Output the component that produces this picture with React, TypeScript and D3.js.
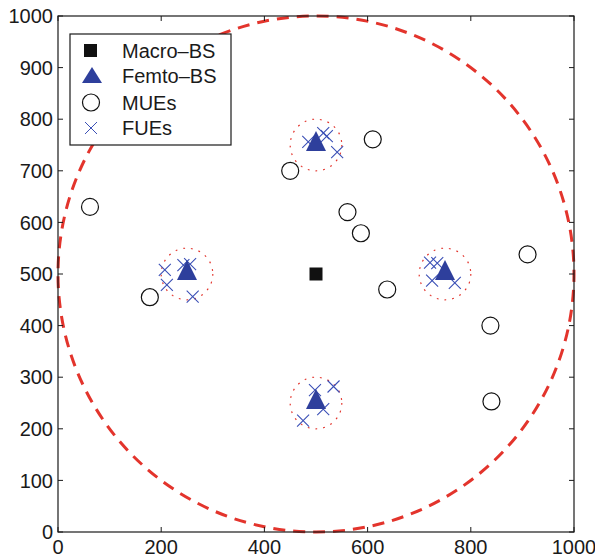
import {useEffect, useRef} from 'react'
import * as d3 from 'd3'

// base stations
const macroBS = [[500, 500]]
const femtoBS = [[250, 500], [500, 750], [750, 500], [500, 250]]

// macro users
const mues = [
    [62, 630], [178, 455], [450, 700], [610, 761], [561, 620],
    [587, 579], [638, 470], [910, 538], [838, 400], [840, 253]
]

// femto users
const fues = [
    [207, 508], [211, 479], [243, 517], [256, 519], [261, 456],
    [485, 756], [514, 773], [521, 767], [541, 736],
    [721, 522], [735, 521], [725, 487], [769, 483],
    [498, 275], [534, 282], [514, 238], [475, 216]
]

const macroRadius = 500
const femtoRadius = 50
const xTicks = [0, 200, 400, 600, 800, 1000]
const yTicks = [0, 100, 200, 300, 400, 500, 600, 700, 800, 900, 1000]

const legendItems = ['Macro\u2013BS', 'Femto\u2013BS', 'MUEs', 'FUEs']

const RED = '#e3342c'
const BLUE = '#2e3f9c'
const CROSS = '#3b50b6'
const FONT = '"Liberation Sans", Arial, Helvetica, sans-serif'

function App(){
    const svg = useRef(null)

    useEffect(() => {
        const x = d3.scaleLinear().domain([0, 1000]).range([58, 574])
        const y = d3.scaleLinear().domain([0, 1000]).range([532, 16])

        const svgRef = d3.select(svg.current)
        svgRef.selectAll("*").remove()

        const g = svgRef.append("g")

        //circles for coverage areas
        g.append("circle")
            .attr("cx", x(500)).attr("cy", y(500))
            .attr("r", x(macroRadius) - x(0))
            .attr("fill", "none")
            .attr("stroke", RED)
            .attr("stroke-width", 3)
            .attr("stroke-dasharray", "12 8")
            .attr("stroke-dashoffset", 4)

        g.selectAll(".femto-area")
            .data(femtoBS)
            .join("circle")
                .attr("class", "femto-area")
                .attr("cx", d => x(d[0]))
                .attr("cy", d => y(d[1]))
                .attr("r", x(femtoRadius) - x(0))
                .attr("fill", "none")
                .attr("stroke", RED)
                .attr("stroke-width", 1.2)
                .attr("stroke-dasharray", "1.8 6")

        //axes box
        g.append("rect")
            .attr("x", x(0)).attr("y", y(1000))
            .attr("width", x(1000) - x(0))
            .attr("height", y(0) - y(1000))
            .attr("fill", "none")
            .attr("stroke", "#1a1a1a")
            .attr("stroke-width", 1.2)

        //tick marks inside on all four sides
        xTicks.forEach(t => {
            g.append("line").attr("x1", x(t)).attr("x2", x(t))
                .attr("y1", y(0)).attr("y2", y(0) - 5)
                .attr("stroke", "#1a1a1a")
            g.append("line").attr("x1", x(t)).attr("x2", x(t))
                .attr("y1", y(1000)).attr("y2", y(1000) + 5)
                .attr("stroke", "#1a1a1a")
            g.append("text")
                .attr("x", x(t)).attr("y", y(0) + 22)
                .attr("text-anchor", "middle")
                .attr("fill", "#1a1a1a")
                .style("font", `20px ${FONT}`)
                .text(t)
        })
        yTicks.forEach(t => {
            g.append("line").attr("x1", x(0)).attr("x2", x(0) + 5)
                .attr("y1", y(t)).attr("y2", y(t))
                .attr("stroke", "#1a1a1a")
            g.append("line").attr("x1", x(1000)).attr("x2", x(1000) - 5)
                .attr("y1", y(t)).attr("y2", y(t))
                .attr("stroke", "#1a1a1a")
            g.append("text")
                .attr("x", x(0) - 5).attr("y", y(t))
                .attr("dy", "0.36em")
                .attr("text-anchor", "end")
                .attr("fill", "#1a1a1a")
                .style("font", `20px ${FONT}`)
                .text(t)
        })

        const crossPath = (cx, cy, s) => `M${cx - s},${cy - s}L${cx + s},${cy + s}M${cx - s},${cy + s}L${cx + s},${cy - s}`
        const triPath = (cx, cy) => `M${cx - 10},${cy + 6}L${cx + 10},${cy + 6}L${cx},${cy - 14}Z`

        //MUEs
        g.selectAll(".mue")
            .data(mues)
            .join("circle")
                .attr("class", "mue")
                .attr("cx", d => x(d[0]))
                .attr("cy", d => y(d[1]))
                .attr("r", 8.5)
                .attr("fill", "none")
                .attr("stroke", "#111")
                .attr("stroke-width", 1.2)

        //FUEs
        g.selectAll(".fue")
            .data(fues)
            .join("path")
                .attr("class", "fue")
                .attr("d", d => crossPath(x(d[0]), y(d[1]), 6))
                .attr("stroke", CROSS)
                .attr("stroke-width", 1.1)
                .attr("fill", "none")

        //Femto BS, drawn over the users
        g.selectAll(".femto")
            .data(femtoBS)
            .join("path")
                .attr("class", "femto")
                .attr("d", d => triPath(x(d[0]), y(d[1])))
                .attr("fill", BLUE)

        //Macro BS
        g.selectAll(".macro")
            .data(macroBS)
            .join("rect")
                .attr("class", "macro")
                .attr("x", d => x(d[0]) - 6.5)
                .attr("y", d => y(d[1]) - 6.5)
                .attr("width", 13)
                .attr("height", 13)
                .attr("fill", "#111")

        //legend
        const lg = g.append("g")
        lg.append("rect")
            .attr("x", 70).attr("y", 34)
            .attr("width", 161).attr("height", 111)
            .attr("fill", "white")
            .attr("stroke", "#1a1a1a")
            .attr("stroke-width", 1.2)

        const rowY = [50.5, 76, 102.5, 128]
        lg.append("rect").attr("x", 84).attr("y", rowY[0] - 6.5)
            .attr("width", 13).attr("height", 13).attr("fill", "#111")
        lg.append("path").attr("d", `M82,${rowY[1] + 7}L102,${rowY[1] + 7}L92,${rowY[1] - 9}Z`)
            .attr("fill", BLUE)
        lg.append("circle").attr("cx", 91).attr("cy", rowY[2]).attr("r", 8.5)
            .attr("fill", "none").attr("stroke", "#111").attr("stroke-width", 1.2)
        lg.append("path").attr("d", crossPath(91, rowY[3], 6))
            .attr("stroke", CROSS).attr("fill", "none")

        lg.selectAll("text")
            .data(legendItems)
            .join("text")
                .attr("x", 122)
                .attr("y", (d, i) => rowY[i])
                .attr("dy", "0.36em")
                .attr("fill", "#1a1a1a")
                .style("font", `20px ${FONT}`)
                .text(d => d)
    }, [])

    return(
        <svg ref={svg} width={595} height={557} style={{position: 'absolute', left: 0, top: 0}}></svg>
    )
}

export default App
